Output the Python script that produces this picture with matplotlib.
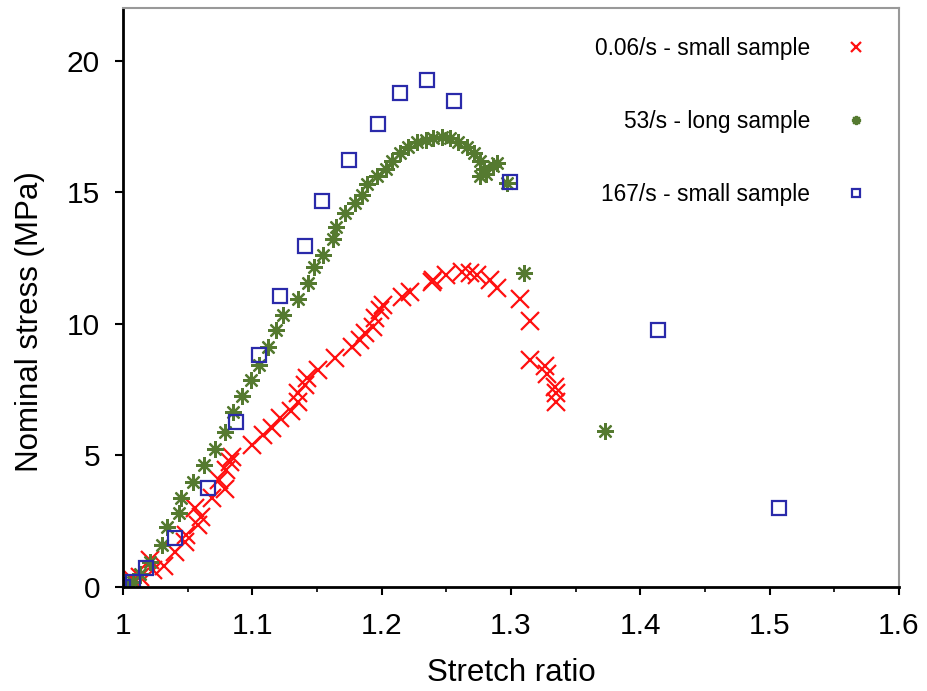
import matplotlib
matplotlib.use("Agg")
import matplotlib.pyplot as plt
from matplotlib.ticker import MultipleLocator

plt.rcParams['font.family'] = ['Liberation Sans', 'DejaVu Sans']

# 0.06/s - small sample
slow_x = [1.000, 1.008, 1.013, 1.021, 1.023, 1.032, 1.040, 1.048, 1.049, 1.058,
          1.060, 1.056, 1.069, 1.079, 1.074, 1.080, 1.083, 1.084, 1.100, 1.108,
          1.115, 1.121, 1.130, 1.135, 1.135, 1.141, 1.142, 1.151, 1.164, 1.177,
          1.183, 1.187, 1.193, 1.195, 1.199, 1.201, 1.216, 1.222, 1.239, 1.240,
          1.250, 1.262, 1.268, 1.274, 1.284, 1.289, 1.307, 1.315, 1.315, 1.326,
          1.328, 1.334, 1.335, 1.335]
slow_y = [0.08, 0.27, 0.38, 1.03, 0.65, 0.80, 1.33, 1.71, 1.98, 2.36,
          2.66, 3.00, 3.38, 3.73, 4.07, 4.45, 4.75, 4.94, 5.40, 5.78,
          6.05, 6.43, 6.69, 7.03, 7.38, 7.68, 7.95, 8.25, 8.70, 9.13,
          9.39, 9.66, 9.89, 10.23, 10.53, 10.72, 11.03, 11.20, 11.60, 11.67,
          11.86, 11.98, 11.94, 11.86, 11.67, 11.35, 10.95, 10.12, 8.63, 8.40,
          8.10, 7.60, 7.37, 7.04]

# 53/s - long sample
mid_x = [1.000, 1.008, 1.013, 1.021, 1.030, 1.034, 1.043, 1.045, 1.054, 1.063,
         1.071, 1.079, 1.085, 1.092, 1.099, 1.105, 1.112, 1.118, 1.124, 1.135,
         1.143, 1.148, 1.155, 1.162, 1.165, 1.172, 1.179, 1.185, 1.189, 1.196,
         1.203, 1.208, 1.214, 1.220, 1.227, 1.234, 1.240, 1.247, 1.253, 1.259,
         1.266, 1.271, 1.276, 1.279, 1.276, 1.281, 1.286, 1.289, 1.297, 1.310,
         1.373]
mid_y = [0.08, 0.20, 0.50, 0.95, 1.60, 2.28, 2.80, 3.38, 4.00, 4.63,
         5.25, 5.90, 6.65, 7.26, 7.87, 8.44, 9.13, 9.77, 10.34, 10.95,
         11.54, 12.17, 12.62, 13.23, 13.69, 14.20, 14.60, 14.90, 15.30, 15.60,
         15.90, 16.20, 16.50, 16.70, 16.90, 17.00, 17.07, 17.10, 17.07, 16.90,
         16.70, 16.50, 16.20, 15.90, 15.60, 15.70, 16.00, 16.10, 15.35, 11.95,
         5.92]

# 167/s - small sample
fast_x = [1.000, 1.008, 1.018, 1.040, 1.066, 1.087, 1.105, 1.121, 1.141, 1.154,
          1.175, 1.197, 1.214, 1.235, 1.256, 1.299, 1.414, 1.507]
fast_y = [0.0, 0.2, 0.72, 1.86, 3.76, 6.27, 8.80, 11.06, 12.97, 14.68,
          16.24, 17.60, 18.78, 19.28, 18.48, 15.40, 9.77, 3.00]

xtick_vals = [1.0, 1.1, 1.2, 1.3, 1.4, 1.5, 1.6]
xtick_text = ['1', '1.1', '1.2', '1.3', '1.4', '1.5', '1.6']

fig = plt.figure(figsize=(9.27, 6.91), dpi=100)
ax = fig.add_axes([0.1327, 0.1505, 0.8371, 0.8379])

ax.plot(slow_x, slow_y, linestyle='none', marker='x', color='#ff1010',
        ms=12.5, mew=1.6, label='0.06/s - small sample')
ax.plot(mid_x, mid_y, linestyle='none', marker=(8, 2, 0), color='#557a30',
        ms=12, mew=1.6, label='53/s - long sample')
ax.plot(fast_x, fast_y, linestyle='none', marker='s', color='#2a2aaa',
        mfc='none', ms=10, mew=1.6, label='167/s - small sample')

ax.set_xlim(1.0, 1.6)
ax.set_ylim(0, 22)
ax.set_xticks(xtick_vals)
ax.set_xticklabels(xtick_text)
ax.xaxis.set_minor_locator(MultipleLocator(0.05))
ax.yaxis.set_major_locator(MultipleLocator(5))
ax.tick_params(which='major', direction='out', length=5.5, width=1.5,
               labelsize=21.5, colors='black')
ax.tick_params(which='minor', direction='out', length=3.5, width=1.2)
ax.tick_params(axis='x', which='major', pad=12.5)
ax.tick_params(axis='y', which='major', pad=11)

for s in ['left', 'bottom']:
    ax.spines[s].set_linewidth(2)
    ax.spines[s].set_color('black')
for s in ['top', 'right']:
    ax.spines[s].set_linewidth(1.5)
    ax.spines[s].set_color('#999999')

ax.set_xlabel('Stretch ratio', fontsize=22.5, labelpad=13)
ax.set_ylabel('Nominal stress (MPa)', fontsize=22.5)
ax.yaxis.set_label_coords(-0.1, 0.459)

ax.legend(loc='upper right', bbox_to_anchor=(867 / 927, 1 - 37 / 691),
          bbox_transform=fig.transFigure, borderaxespad=0, borderpad=0,
          frameon=False, markerfirst=False, fontsize=16.4, labelspacing=2.2,
          markerscale=0.55, handlelength=1.0, handletextpad=1.5)

plt.savefig('out.png', dpi=100)
